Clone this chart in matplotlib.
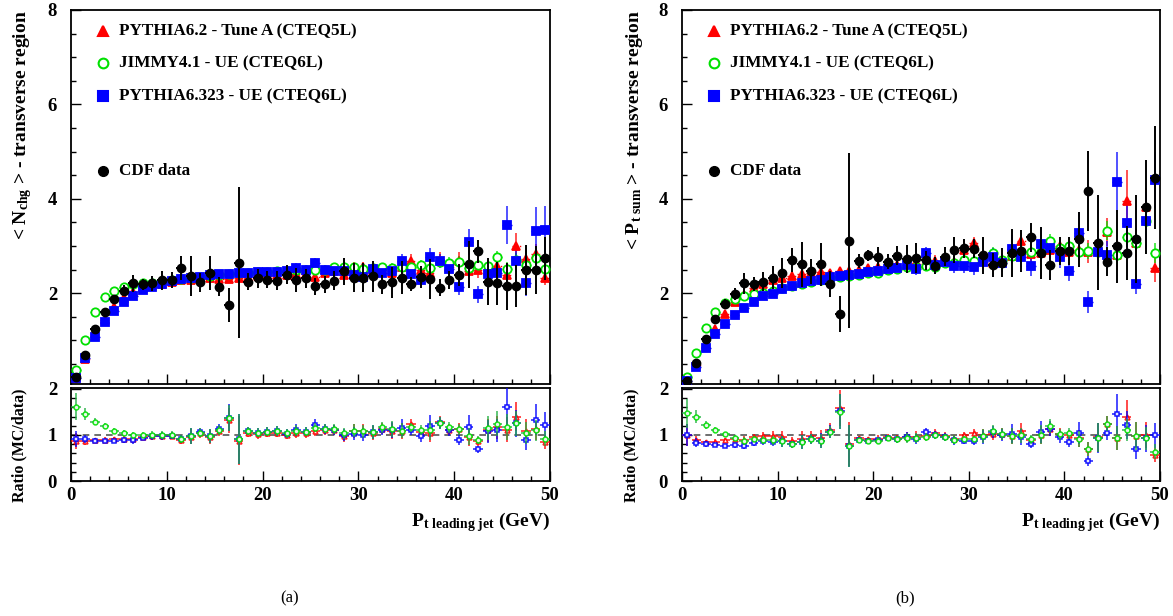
import matplotlib
matplotlib.use("Agg")
import matplotlib.pyplot as plt
import numpy as np
from matplotlib.ticker import MultipleLocator

plt.rcParams['font.family'] = ['Liberation Serif', 'DejaVu Serif']
plt.rcParams['font.weight'] = 'bold'
plt.rcParams['axes.labelweight'] = 'bold'
plt.rcParams['mathtext.fontset'] = 'custom'
plt.rcParams['mathtext.rm'] = 'Liberation Serif:bold'
plt.rcParams['mathtext.it'] = 'Liberation Serif:bold'
plt.rcParams['mathtext.bf'] = 'Liberation Serif:bold'

# bin centres of the leading jet pt (GeV)
pt_bins = np.arange(0.5, 50.0, 1.0)

# ---- (a) <N_chg> in the transverse region ----
data_a = [0.23, 0.69, 1.24, 1.60, 1.87, 2.05, 2.21, 2.19, 2.21, 2.27,
          2.28, 2.53, 2.37, 2.23, 2.43, 2.14, 1.75, 2.65, 2.24, 2.32,
          2.28, 2.26, 2.39, 2.28, 2.32, 2.15, 2.19, 2.26, 2.46, 2.33,
          2.33, 2.36, 2.19, 2.23, 2.33, 2.19, 2.35, 2.30, 2.12, 2.28,
          2.38, 2.61, 2.89, 2.24, 2.21, 2.15, 2.15, 2.49, 2.49, 2.74]
data_a_err = [0.04, 0.06, 0.07, 0.08, 0.10, 0.12, 0.18, 0.12, 0.16, 0.20,
              0.17, 0.25, 0.42, 0.20, 0.36, 0.20, 0.36, 1.60, 0.18, 0.20,
              0.18, 0.20, 0.20, 0.25, 0.20, 0.18, 0.18, 0.20, 0.28, 0.30,
              0.30, 0.33, 0.20, 0.33, 0.35, 0.15, 0.23, 0.42, 0.18, 0.20,
              0.23, 0.50, 0.24, 0.50, 0.45, 0.50, 0.45, 0.53, 0.50, 0.45]
pythia62_a = [0.20, 0.60, 1.10, 1.44, 1.71, 1.89, 2.03, 2.10, 2.15, 2.20,
              2.24, 2.27, 2.29, 2.31, 2.32, 2.31, 2.30, 2.32, 2.35, 2.36,
              2.37, 2.38, 2.38, 2.40, 2.41, 2.34, 2.42, 2.48, 2.38, 2.55,
              2.55, 2.46, 2.49, 2.43, 2.55, 2.69, 2.49, 2.42, 2.71, 2.55,
              2.69, 2.48, 2.50, 2.46, 2.58, 2.39, 3.00, 2.73, 2.82, 2.33]
pythia62_a_err = [0.02, 0.03, 0.03, 0.03, 0.03, 0.04, 0.04, 0.04, 0.04, 0.05,
                  0.05, 0.05, 0.05, 0.06, 0.06, 0.06, 0.07, 0.07, 0.07, 0.08,
                  0.08, 0.08, 0.09, 0.09, 0.10, 0.10, 0.10, 0.11, 0.11, 0.12,
                  0.12, 0.12, 0.13, 0.13, 0.14, 0.15, 0.15, 0.16, 0.16, 0.17,
                  0.18, 0.20, 0.18, 0.18, 0.20, 0.20, 0.28, 0.22, 0.22, 0.15]
jimmy_a = [0.37, 1.01, 1.60, 1.91, 2.05, 2.14, 2.19, 2.21, 2.22, 2.26,
           2.28, 2.31, 2.32, 2.34, 2.37, 2.38, 2.40, 2.42, 2.43, 2.44,
           2.45, 2.46, 2.47, 2.50, 2.49, 2.49, 2.49, 2.55, 2.55, 2.55,
           2.51, 2.53, 2.55, 2.53, 2.55, 2.55, 2.60, 2.53, 2.67, 2.65,
           2.67, 2.53, 2.60, 2.58, 2.76, 2.51, 2.70, 2.60, 2.74, 2.51]
jimmy_a_err = [0.02, 0.02, 0.03, 0.03, 0.03, 0.03, 0.03, 0.04, 0.04, 0.04,
               0.04, 0.04, 0.05, 0.05, 0.05, 0.05, 0.05, 0.06, 0.06, 0.06,
               0.06, 0.07, 0.07, 0.07, 0.07, 0.08, 0.08, 0.08, 0.08, 0.09,
               0.09, 0.09, 0.10, 0.10, 0.10, 0.10, 0.11, 0.11, 0.12, 0.12,
               0.12, 0.13, 0.13, 0.14, 0.14, 0.15, 0.15, 0.16, 0.16, 0.17]
pythia6323_a = [0.21, 0.63, 1.08, 1.39, 1.62, 1.81, 1.95, 2.06, 2.14, 2.20,
                2.25, 2.30, 2.33, 2.35, 2.38, 2.40, 2.41, 2.42, 2.43, 2.44,
                2.44, 2.45, 2.46, 2.53, 2.49, 2.63, 2.49, 2.48, 2.46, 2.39,
                2.35, 2.51, 2.43, 2.46, 2.69, 2.41, 2.29, 2.76, 2.69, 2.51,
                2.14, 3.08, 1.98, 2.41, 2.43, 3.44, 2.69, 2.22, 3.32, 3.34]
pythia6323_a_err = [0.02, 0.03, 0.03, 0.03, 0.04, 0.04, 0.04, 0.05, 0.05, 0.05,
                    0.05, 0.06, 0.06, 0.06, 0.07, 0.07, 0.07, 0.08, 0.08, 0.08,
                    0.09, 0.09, 0.09, 0.10, 0.10, 0.11, 0.11, 0.11, 0.12, 0.12,
                    0.12, 0.13, 0.13, 0.14, 0.15, 0.15, 0.16, 0.20, 0.15, 0.17,
                    0.18, 0.28, 0.18, 0.20, 0.22, 0.40, 0.25, 0.28, 0.50, 0.50]

# ---- (b) <Pt sum> in the transverse region ----
data_b = [0.15, 0.53, 1.04, 1.45, 1.77, 1.98, 2.21, 2.19, 2.24, 2.33,
          2.43, 2.70, 2.61, 2.46, 2.61, 2.19, 1.56, 3.11, 2.69, 2.80,
          2.77, 2.67, 2.79, 2.72, 2.74, 2.70, 2.58, 2.77, 2.92, 2.95,
          2.94, 2.80, 2.60, 2.65, 2.85, 2.89, 3.18, 2.85, 2.60, 2.90,
          2.90, 3.14, 4.16, 3.07, 2.67, 2.99, 2.85, 3.14, 3.83, 4.45]
data_b_err = [0.03, 0.05, 0.07, 0.08, 0.10, 0.12, 0.22, 0.15, 0.20, 0.25,
              0.32, 0.25, 0.47, 0.27, 0.45, 0.27, 0.39, 1.85, 0.15, 0.12,
              0.20, 0.15, 0.20, 0.30, 0.32, 0.20, 0.18, 0.20, 0.27, 0.20,
              0.20, 0.40, 0.25, 0.30, 0.50, 0.45, 0.30, 0.55, 0.32, 0.30,
              0.30, 0.58, 0.85, 1.00, 0.30, 0.78, 0.58, 0.93, 1.00, 1.10]
pythia62_b = [0.15, 0.47, 0.87, 1.24, 1.56, 1.81, 1.96, 2.10, 2.19, 2.29,
              2.33, 2.37, 2.40, 2.42, 2.44, 2.43, 2.47, 2.48, 2.49, 2.53,
              2.55, 2.56, 2.60, 2.60, 2.63, 2.62, 2.69, 2.70, 2.67, 2.92,
              3.06, 2.77, 2.63, 2.70, 2.79, 3.11, 2.82, 2.85, 2.92, 2.99,
              2.88, 2.92, 2.88, 2.92, 3.30, 2.80, 3.96, 3.07, 3.83, 2.53]
pythia62_b_err = [0.02, 0.03, 0.03, 0.04, 0.04, 0.05, 0.05, 0.05, 0.06, 0.06,
                  0.06, 0.07, 0.07, 0.07, 0.08, 0.08, 0.08, 0.09, 0.09, 0.09,
                  0.10, 0.10, 0.10, 0.11, 0.11, 0.12, 0.12, 0.12, 0.13, 0.13,
                  0.14, 0.14, 0.15, 0.15, 0.16, 0.16, 0.17, 0.18, 0.18, 0.19,
                  0.20, 0.22, 0.25, 0.22, 0.30, 0.30, 0.65, 0.30, 0.40, 0.30]
jimmy_b = [0.22, 0.74, 1.26, 1.60, 1.79, 1.87, 1.93, 1.98, 2.00, 2.05,
           2.10, 2.15, 2.19, 2.24, 2.28, 2.32, 2.35, 2.37, 2.39, 2.42,
           2.43, 2.49, 2.52, 2.55, 2.56, 2.58, 2.56, 2.63, 2.63, 2.70,
           2.68, 2.74, 2.85, 2.70, 2.79, 2.87, 2.88, 2.87, 3.10, 2.95,
           3.00, 2.88, 2.89, 2.88, 3.32, 2.80, 3.18, 3.07, 3.54, 2.85]
jimmy_b_err = [0.02, 0.02, 0.03, 0.03, 0.03, 0.04, 0.04, 0.04, 0.04, 0.05,
               0.05, 0.05, 0.05, 0.06, 0.06, 0.06, 0.06, 0.07, 0.07, 0.07,
               0.08, 0.08, 0.08, 0.09, 0.09, 0.09, 0.10, 0.10, 0.10, 0.11,
               0.11, 0.12, 0.12, 0.12, 0.13, 0.13, 0.14, 0.14, 0.15, 0.15,
               0.16, 0.17, 0.17, 0.18, 0.20, 0.19, 0.20, 0.21, 0.30, 0.22]
pythia6323_b = [0.15, 0.44, 0.83, 1.13, 1.34, 1.53, 1.69, 1.81, 1.93, 1.98,
                2.09, 2.15, 2.21, 2.26, 2.29, 2.34, 2.36, 2.39, 2.41, 2.44,
                2.46, 2.51, 2.53, 2.60, 2.51, 2.85, 2.60, 2.67, 2.58, 2.58,
                2.55, 2.67, 2.77, 2.63, 2.93, 2.76, 2.58, 3.04, 2.95, 2.76,
                2.46, 3.28, 1.81, 2.88, 2.81, 4.35, 3.48, 2.19, 3.54, 4.40]
pythia6323_b_err = [0.02, 0.03, 0.03, 0.04, 0.04, 0.05, 0.05, 0.06, 0.06, 0.06,
                    0.07, 0.07, 0.07, 0.08, 0.08, 0.09, 0.09, 0.09, 0.10, 0.10,
                    0.11, 0.11, 0.12, 0.12, 0.12, 0.13, 0.14, 0.14, 0.15, 0.15,
                    0.16, 0.17, 0.18, 0.19, 0.30, 0.20, 0.21, 0.35, 0.22, 0.23,
                    0.20, 0.45, 0.23, 0.30, 0.30, 0.64, 0.50, 0.20, 0.60, 0.60]

mc_labels = ["PYTHIA6.2 - Tune A (CTEQ5L)", "JIMMY4.1 - UE (CTEQ6L)",
             "PYTHIA6.323 - UE (CTEQ6L)"]
data_label = "CDF data"

RED = "#ff0000"
GREEN = "#00e000"
GREEN_DARK = "#20b040"
BLUE = "#0000ff"

X_MAX = 50


def style_axis(ax, ymajor, yminor):
    """
    ROOT-like ticks: inward, only on the left and bottom edges
    """
    ax.set_xlim(0, X_MAX)
    ax.xaxis.set_major_locator(MultipleLocator(10))
    ax.xaxis.set_minor_locator(MultipleLocator(2))
    ax.yaxis.set_major_locator(MultipleLocator(ymajor))
    ax.yaxis.set_minor_locator(MultipleLocator(yminor))
    ax.tick_params(which='both', direction='in', top=False, right=False, width=1.0)
    ax.tick_params(which='major', length=7)
    ax.tick_params(which='minor', length=3.5)
    ax.tick_params(axis='y', which='both', pad=10, labelsize=13.5)
    ax.tick_params(axis='x', which='both', pad=4, labelsize=13.5)
    for sp in ax.spines.values():
        sp.set_linewidth(1.3)


def draw_panel(ax, axr, data, data_err, mcs, ylabel):
    """
    main distribution with the three MC curves and the CDF data, plus MC/data ratio

    :param ax: axes of the distribution
    :param axr: axes of the ratio
    :param data: measured values
    :param data_err: uncertainties of the measured values
    :param mcs: list of (values, errors, color, marker, open marker, size, ratio zorder)
    :param ylabel: y axis title
    """
    x = pt_bins
    d = np.array(data)
    de = np.array(data_err)

    for vals, errs, color, marker, hollow, ms, rz in mcs:
        v = np.array(vals)
        e = np.array(errs)
        eb = ax.errorbar(x, v, xerr=0.5, fmt='none', ecolor=color, elinewidth=1.0, zorder=2)
        if color == RED:
            eb[2][0].set_linestyle(':')
        ax.errorbar(x, v, yerr=e, fmt='none', ecolor=color, elinewidth=1.2, alpha=0.8, zorder=2)
        ax.plot(x, v, linestyle='none', marker=marker, ms=ms,
                mfc='white' if hollow else color, mec=color, mew=1.3, zorder=3)

    ax.errorbar(x, d, xerr=0.5, yerr=de, fmt='o', color='black', ms=6,
                elinewidth=1.4, capsize=0, zorder=4)

    style_axis(ax, 2, 0.5)
    ax.set_ylim(0.076, 8)
    ax.tick_params(axis='x', labelbottom=False)
    ax.set_ylabel(ylabel, fontsize=14, loc='top')
    ax.yaxis.set_label_coords(-0.078, 1.0)

    # legend, drawn by hand as in the ROOT original
    legend_rows = [0.944, 0.858, 0.770]
    for yy, mc, label in zip(legend_rows, mcs, mc_labels):
        color, marker, hollow = mc[2], mc[3], mc[4]
        ax.plot([0.067], [yy], transform=ax.transAxes, linestyle='none', marker=marker,
                ms=7, mfc='white' if hollow else color, mec=color, mew=1.5)
        ax.text(0.1, yy, label, transform=ax.transAxes, fontsize=12.3, va='center')
    ax.plot([0.067], [0.57], transform=ax.transAxes, linestyle='none', marker='o',
            ms=7, color='black')
    ax.text(0.1, 0.57, data_label, transform=ax.transAxes, fontsize=12.3, va='center')

    # ratio MC / data
    axr.axhline(1.0, color='#555555', linestyle=(0, (4, 3)), linewidth=1.2, zorder=1)
    for vals, errs, color, marker, hollow, ms, rz in mcs:
        v = np.array(vals)
        e = np.array(errs)
        r = v / d
        re = r * np.sqrt((e / v) ** 2 + (de / d) ** 2)
        ecol = GREEN_DARK if color == GREEN else color
        axr.errorbar(x, r, xerr=0.5, yerr=re, fmt=marker, ms=3.5, mfc='white', mec=color,
                     mew=1.1, ecolor=ecol, elinewidth=1.1, capsize=0, alpha=0.9,
                     zorder=rz)

    style_axis(axr, 1, 0.2)
    axr.set_ylim(0, 2.02)
    axr.set_ylabel("Ratio (MC/data)", fontsize=11.5, loc='top')
    axr.yaxis.set_label_coords(-0.09, 1.0)
    axr.set_xlabel(r"$\rm P_{t\ leading\ jet}$ (GeV)", fontsize=14, loc='right')
    axr.xaxis.set_label_coords(1.0, -0.31)


def main():
    W, H = 1173, 616
    fig = plt.figure(figsize=(W / 100, H / 100), dpi=100)

    def box(l, r, t, b):
        return [l / W, 1 - b / H, (r - l) / W, (b - t) / H]

    ax_a = fig.add_axes(box(71, 550, 10, 384))
    axr_a = fig.add_axes(box(71, 550, 388, 481))
    ax_b = fig.add_axes(box(682, 1160, 10, 384))
    axr_b = fig.add_axes(box(682, 1160, 388, 481))

    # ratio draw order: red, blue, green on top
    mcs_a = [(pythia62_a, pythia62_a_err, RED, '^', False, 6.0, 3),
             (jimmy_a, jimmy_a_err, GREEN, 'o', True, 6.0, 5),
             (pythia6323_a, pythia6323_a_err, BLUE, 's', False, 5.5, 4)]
    mcs_b = [(pythia62_b, pythia62_b_err, RED, '^', False, 6.0, 3),
             (jimmy_b, jimmy_b_err, GREEN, 'o', True, 6.0, 5),
             (pythia6323_b, pythia6323_b_err, BLUE, 's', False, 5.5, 4)]

    draw_panel(ax_a, axr_a, data_a, data_a_err, mcs_a,
               r"< $\rm N_{chg}$ > - transverse region")
    draw_panel(ax_b, axr_b, data_b, data_b_err, mcs_b,
               r"< $\rm P_{t\ sum}$ > - transverse region")

    fig.text(290 / W, 1 - 598 / H, "(a)", ha='center', va='center', fontsize=12,
             fontweight='normal')
    fig.text(905 / W, 1 - 598 / H, "(b)", ha='center', va='center', fontsize=12,
             fontweight='normal')

    plt.savefig("out.png", dpi=100)
    plt.close('all')


main()
